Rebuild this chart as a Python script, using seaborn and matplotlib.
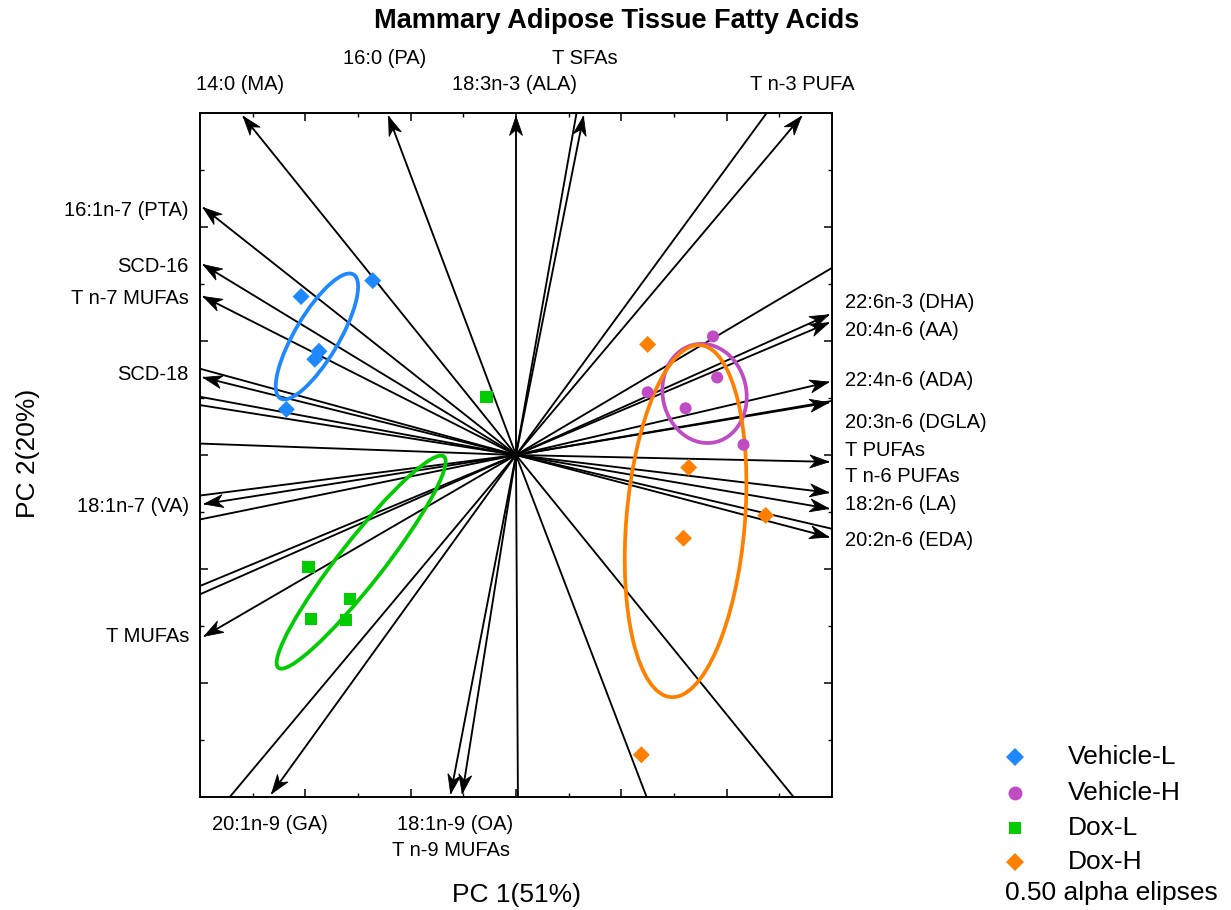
import numpy as np
import pandas as pd
import matplotlib
matplotlib.use("Agg")
import matplotlib.pyplot as plt
from matplotlib.patches import Ellipse, Polygon
from matplotlib.lines import Line2D
import seaborn as sns

# ---- sample scores on PC 1 / PC 2 ----
groups = ["Vehicle-L", "Vehicle-H", "Dox-L", "Dox-H"]
vehicle_l_pc1 = [-2.04, -1.36, -1.87, -1.91, -2.18]
vehicle_l_pc2 = [1.39, 1.53, 0.91, 0.84, 0.40]
vehicle_h_pc1 = [1.87, 1.91, 1.61, 1.25, 2.16]
vehicle_h_pc2 = [1.04, 0.68, 0.41, 0.55, 0.09]
dox_l_pc1 = [-0.28, -1.97, -1.58, -1.95, -1.61]
dox_l_pc2 = [0.51, -0.98, -1.26, -1.44, -1.45]
dox_h_pc1 = [1.25, 1.64, 2.37, 1.59, 1.19]
dox_h_pc2 = [0.97, -0.11, -0.53, -0.73, -2.63]

# ---- 0.50 alpha ellipses (centre, semi-axes, rotation in degrees) ----
ellipse_cx = [-1.89, 1.79, -1.47, 1.61]
ellipse_cy = [1.04, 0.54, -0.94, -0.58]
ellipse_a = [0.645, 0.44, 1.215, 1.55]
ellipse_b = [0.205, 0.395, 0.203, 0.562]
ellipse_angle = [57.0, 110.0, 49.6, 84.7]

# ---- fatty-acid loadings (scaled); unnamed ones run off the frame ----
loading_names = [
    "14:0 (MA)", "16:0 (PA)", "18:3n-3 (ALA)", "T SFAs", "",
    "T n-3 PUFA", "", "",
    "22:6n-3 (DHA)", "20:4n-6 (AA)", "22:4n-6 (ADA)", "20:3n-6 (DGLA)", "",
    "T PUFAs", "T n-6 PUFAs", "18:2n-6 (LA)", "20:2n-6 (EDA)", "",
    "", "", "",
    "T n-9 MUFAs", "18:1n-9 (OA)", "20:1n-9 (GA)", "",
    "T MUFAs", "", "", "", "18:1n-7 (VA)", "", "", "", "",
    "SCD-18", "", "T n-7 MUFAs", "SCD-16", "16:1n-7 (PTA)",
]
loading_pc1 = [
    -2.59, -1.21, 0.00, 0.64, 0.63,
    2.71, 2.61, 3.29,
    2.97, 2.97, 2.97, 2.97, 3.29,
    2.97, 2.97, 2.97, 2.97, 3.29,
    2.89, 1.36, 0.02,
    -0.51, -0.62, -2.32, -2.98,
    -2.96, -3.29, -3.29, -3.29, -2.96, -3.29, -3.29, -3.29, -3.29,
    -2.97, -3.29, -2.97, -2.97, -2.97,
]
loading_pc2 = [
    2.97, 2.97, 2.97, 2.97, 3.29,
    2.97, 3.29, 1.80,
    1.23, 1.16, 0.64, 0.46, 0.52,
    -0.06, -0.33, -0.47, -0.72, -0.71,
    -3.29, -3.29, -3.30,
    -2.97, -2.97, -2.97, -3.29,
    -1.59, -1.34, -1.26, -0.62, -0.43, -0.39, 0.11, 0.48, 0.56,
    0.68, 0.83, 1.39, 1.67, 2.17,
]

# label placement around the frame (figure pixels, 1231 x 910)
label_place = {
    "14:0 (MA)": (240, 85, "center"), "16:0 (PA)": (385, 58, "center"),
    "18:3n-3 (ALA)": (515, 85, "center"), "T SFAs": (585, 58, "center"),
    "T n-3 PUFA": (802, 85, "center"),
    "16:1n-7 (PTA)": (189, 210, "right"), "SCD-16": (189, 266, "right"),
    "T n-7 MUFAs": (189, 299, "right"), "SCD-18": (189, 375, "right"),
    "18:1n-7 (VA)": (189, 507, "right"), "T MUFAs": (189, 637, "right"),
    "22:6n-3 (DHA)": (845, 303, "left"), "20:4n-6 (AA)": (845, 330, "left"),
    "22:4n-6 (ADA)": (845, 380, "left"), "20:3n-6 (DGLA)": (845, 423, "left"),
    "T PUFAs": (845, 450, "left"), "T n-6 PUFAs": (845, 477, "left"),
    "18:2n-6 (LA)": (845, 504, "left"), "20:2n-6 (EDA)": (845, 540, "left"),
    "20:1n-9 (GA)": (270, 825, "center"), "18:1n-9 (OA)": (455, 825, "center"),
    "T n-9 MUFAs": (451, 850, "center"),
}

palette = {"Vehicle-L": "#1E88FF", "Vehicle-H": "#C04CC4",
           "Dox-L": "#00CC00", "Dox-H": "#FF8000"}
markers = {"Vehicle-L": "D", "Vehicle-H": "o", "Dox-L": "s", "Dox-H": "D"}

scores = pd.concat([
    pd.DataFrame({"PC1": vehicle_l_pc1, "PC2": vehicle_l_pc2, "group": "Vehicle-L"}),
    pd.DataFrame({"PC1": vehicle_h_pc1, "PC2": vehicle_h_pc2, "group": "Vehicle-H"}),
    pd.DataFrame({"PC1": dox_l_pc1, "PC2": dox_l_pc2, "group": "Dox-L"}),
    pd.DataFrame({"PC1": dox_h_pc1, "PC2": dox_h_pc2, "group": "Dox-H"}),
], ignore_index=True)

sns.set_theme(style="ticks")
plt.rcParams["font.family"] = ["Liberation Sans", "DejaVu Sans"]
plt.rcParams["text.color"] = "black"

W, H = 1231, 910
fig = plt.figure(figsize=(W / 100, H / 100), dpi=100)
ax = fig.add_axes([200 / W, 1 - 797 / H, 632 / W, 684 / H])
ax.set_xlim(-3, 3)
ax.set_ylim(-3, 3)


def fig_xy(px, py):
    return px / W, 1 - py / H


def draw_head(ax, x, y, length=19.0, width=13.0, notch=0.7):
    """Filled, notched arrow head at (x, y) pointing away from the origin."""
    t = ax.transData
    p0 = t.transform((0.0, 0.0))
    p1 = t.transform((x, y))
    d = p1 - p0
    d = d / np.hypot(*d)
    n = np.array([-d[1], d[0]])
    base = p1 - d * length
    pts = np.array([p1, base + n * width / 2, p1 - d * length * notch,
                    base - n * width / 2])
    ax.add_patch(Polygon(t.inverted().transform(pts), closed=True,
                         facecolor="black", edgecolor="black", lw=0.6,
                         joinstyle="miter", zorder=2))


# loading vectors
for x, y in zip(loading_pc1, loading_pc2):
    ax.plot([0, x], [0, y], color="black", lw=1.35, zorder=1,
            solid_capstyle="butt")
    draw_head(ax, x, y)

# group ellipses
for g, cx, cy, a, b, ang in zip(groups, ellipse_cx, ellipse_cy, ellipse_a,
                                ellipse_b, ellipse_angle):
    ax.add_patch(Ellipse((cx, cy), 2 * a, 2 * b, angle=ang, fill=False,
                         edgecolor=palette[g], lw=2.7, zorder=3))

# sample scores
sns.scatterplot(data=scores, x="PC1", y="PC2", hue="group", style="group",
                palette=palette, markers=markers, s=75, linewidth=0,
                legend=False, ax=ax, zorder=4)

ax.set_xlim(-3, 3)
ax.set_ylim(-3, 3)
ax.set_xlabel("")
ax.set_ylabel("")
ax.set_xticks([-2, -1, 0, 1, 2])
ax.set_yticks([-2, -1, 0, 1, 2])
ax.set_xticks(np.arange(-2.5, 3.0, 1.0), minor=True)
ax.set_yticks(np.arange(-2.5, 3.0, 1.0), minor=True)
ax.tick_params(which="both", direction="in", top=True, right=True,
               labelbottom=False, labelleft=False, color="black")
ax.tick_params(which="major", length=5.5, width=1.1)
ax.tick_params(which="minor", length=3, width=1.0)
for s in ax.spines.values():
    s.set_linewidth(1.4)
    s.set_color("black")
    s.set_visible(True)

# variable labels around the frame
for name in loading_names:
    if not name:
        continue
    px, py, ha = label_place[name]
    fx, fy = fig_xy(px, py)
    fig.text(fx, fy, name, ha=ha, va="center", fontsize=14.5)

# titles
fig.text(*fig_xy(617, 21), "Mammary Adipose Tissue Fatty Acids", ha="center",
         va="center", fontsize=19.5, fontweight="bold")
fig.text(*fig_xy(516, 895), "PC 1(51%)", ha="center", va="center",
         fontsize=19)
fig.text(*fig_xy(28, 453), "PC 2(20%)", ha="center", va="center",
         fontsize=19, rotation=90)

# legend
legend_rows = [757, 793, 828, 862]
for g, py in zip(groups, legend_rows):
    fx, fy = fig_xy(1015, py)
    ms = 9 if markers[g] == "D" else 10 if markers[g] == "o" else 9
    fig.add_artist(Line2D([fx], [fy], transform=fig.transFigure,
                          marker=markers[g], markersize=ms, linestyle="",
                          color=palette[g], markeredgewidth=0))
    fig.text(*fig_xy(1068, py), g, ha="left", va="center", fontsize=19)
fig.text(*fig_xy(1005, 893), "0.50 alpha elipses", ha="left", va="center",
         fontsize=19)

fig.savefig("out.png", dpi=100)
